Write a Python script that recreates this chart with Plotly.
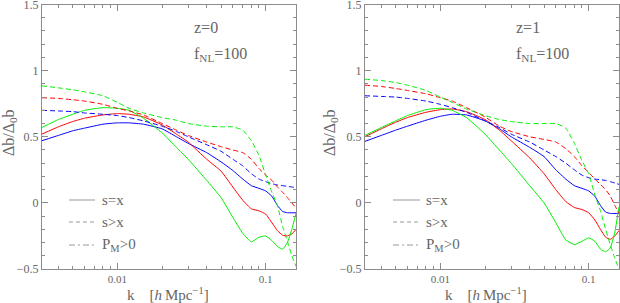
import plotly.graph_objects as go

k = [0.0031, 0.004, 0.005, 0.006, 0.008, 0.01, 0.012, 0.015, 0.02, 0.025, 0.03,
     0.04, 0.05, 0.06, 0.07, 0.08, 0.09, 0.1, 0.11, 0.12, 0.13, 0.14, 0.15, 0.16]

# z = 0 panel
z0_blue_solid = [0.47, 0.51, 0.545, 0.565, 0.595, 0.605, 0.605, 0.595, 0.56, 0.50, 0.45,
                 0.38, 0.31, 0.245, 0.18, 0.13, 0.11, 0.09, 0.05, -0.02, -0.065, -0.075, -0.075, -0.075]
z0_red_solid = [0.52, 0.575, 0.615, 0.64, 0.665, 0.675, 0.67, 0.65, 0.59, 0.52, 0.46,
                0.33, 0.24, 0.12, 0.02, -0.045, -0.06, -0.085, -0.15, -0.21, -0.245, -0.25, -0.235, -0.2]
z0_green_solid = [0.57, 0.63, 0.67, 0.70, 0.72, 0.715, 0.70, 0.64, 0.53, 0.42, 0.33,
                  0.17, 0.04, -0.11, -0.23, -0.295, -0.26, -0.25, -0.285, -0.33, -0.35, -0.30, -0.2, -0.08]
z0_blue_dash = [0.70, 0.695, 0.69, 0.68, 0.67, 0.66, 0.645, 0.62, 0.58, 0.54, 0.50,
                0.44, 0.39, 0.33, 0.28, 0.22, 0.18, 0.16, 0.145, 0.135, 0.13, 0.125, 0.12, 0.115]
z0_red_dash = [0.795, 0.79, 0.78, 0.77, 0.745, 0.715, 0.695, 0.665, 0.60, 0.55, 0.51,
               0.46, 0.425, 0.40, 0.38, 0.33, 0.26, 0.21, 0.17, 0.12, 0.08, 0.04, 0.0, -0.04]
z0_green_dash = [0.885, 0.87, 0.855, 0.84, 0.81, 0.76, 0.715, 0.68, 0.645, 0.625, 0.60,
                 0.58, 0.575, 0.575, 0.55, 0.47, 0.36, 0.21, 0.08, -0.02, -0.18, -0.29, -0.40, -0.48]

# z = 1 panel
z1_blue_solid = [0.465, 0.51, 0.55, 0.58, 0.625, 0.655, 0.67, 0.665, 0.62, 0.56, 0.50,
                 0.42, 0.35, 0.25, 0.18, 0.13, 0.11, 0.09, 0.05, -0.02, -0.07, -0.08, -0.08, -0.08]
z1_red_solid = [0.50, 0.56, 0.61, 0.645, 0.685, 0.705, 0.71, 0.69, 0.63, 0.55, 0.47,
                0.34, 0.22, 0.10, 0.01, -0.035, -0.05, -0.075, -0.13, -0.2, -0.26, -0.275, -0.25, -0.21]
z1_green_solid = [0.51, 0.57, 0.62, 0.66, 0.705, 0.715, 0.70, 0.645, 0.52, 0.40, 0.30,
                  0.13, 0.0, -0.15, -0.28, -0.315, -0.29, -0.265, -0.29, -0.35, -0.37, -0.34, -0.22, -0.03]
z1_blue_dash = [0.81, 0.805, 0.80, 0.79, 0.77, 0.745, 0.72, 0.685, 0.62, 0.57, 0.52,
                0.46, 0.40, 0.35, 0.30, 0.25, 0.21, 0.19, 0.18, 0.175, 0.17, 0.16, 0.15, 0.14]
z1_red_dash = [0.89, 0.88, 0.865, 0.85, 0.825, 0.795, 0.77, 0.72, 0.65, 0.58, 0.54,
               0.50, 0.48, 0.46, 0.41, 0.35, 0.28, 0.23, 0.18, 0.14, 0.10, 0.05, -0.02, -0.08]
z1_green_dash = [0.935, 0.925, 0.91, 0.89, 0.85, 0.80, 0.76, 0.71, 0.66, 0.63, 0.615,
                 0.60, 0.60, 0.60, 0.565, 0.45, 0.32, 0.22, 0.06, -0.06, -0.2, -0.32, -0.42, -0.5]

panel_labels = ["z=0", "z=1"]
fnl_label = "f<sub>NL</sub>=100"
legend_labels = ["s=x", "s>x", "P<sub>M</sub>>0"]
x_title = "k\u2003[<i>h</i>\u2009Mpc<sup>\u22121</sup>]"
x_major = [0.01, 0.1]
x_minor = [0.004, 0.005, 0.006, 0.007, 0.008, 0.009, 0.02, 0.03, 0.04, 0.05, 0.06, 0.07, 0.08, 0.09]

BLUE, RED, GREEN = "#0000ff", "#ff0000", "#00ee00"
GRAY = "#666666"
AX = "#8c8c8c"
FONT = "Liberation Serif"
DASH = "5px,3px"

panels = [
    [(z0_blue_solid, BLUE, "solid"), (z0_red_solid, RED, "solid"), (z0_green_solid, GREEN, "solid"),
     (z0_blue_dash, BLUE, DASH), (z0_red_dash, RED, DASH), (z0_green_dash, GREEN, DASH)],
    [(z1_blue_solid, BLUE, "solid"), (z1_red_solid, RED, "solid"), (z1_green_solid, GREEN, "solid"),
     (z1_blue_dash, BLUE, DASH), (z1_red_dash, RED, DASH), (z1_green_dash, GREEN, DASH)],
]

fig = go.Figure()
for i, series in enumerate(panels):
    xa = "x" if i == 0 else "x2"
    ya = "y" if i == 0 else "y2"
    for ys, col, dash in series:
        fig.add_trace(go.Scatter(x=k, y=ys, mode="lines", xaxis=xa, yaxis=ya,
                                 line=dict(color=col, width=1, dash=dash, shape="spline", smoothing=0.4),
                                 showlegend=False, hoverinfo="skip"))

W, H = 620, 303
xdoms = [[42 / W, 296 / W], [365 / W, 619 / W]]
ydom = [1 - 269 / H, 1 - 4.5 / H]

def xaxis(dom, anchor):
    return dict(domain=dom, anchor=anchor, type="log", range=[-2.508, -0.796],
                automargin=False, ticklabeloverflow="allow",
                tickmode="array", tickvals=x_major, ticktext=["0.01", "0.1"],
                ticks="inside", ticklen=6, tickcolor=AX, tickwidth=1,
                minor=dict(tickmode="array", tickvals=x_minor, ticks="inside", ticklen=3,
                           tickcolor=AX, tickwidth=1, showgrid=False),
                showline=True, linecolor=AX, linewidth=1, mirror="ticks",
                showgrid=False, zeroline=False,
                tickfont=dict(family=FONT, size=11, color=GRAY))

def yaxis(anchor):
    return dict(domain=ydom, anchor=anchor, range=[-0.5, 1.5],
                automargin=False, ticklabeloverflow="allow",
                tickmode="array", tickvals=[-0.5, 0, 0.5, 1, 1.5],
                ticktext=["\u22120.5", "0", "0.5", "1", "1.5"],
                ticks="inside", ticklen=6, tickcolor=AX, tickwidth=1,
                minor=dict(dtick=0.1, ticks="inside", ticklen=3, tickcolor=AX, tickwidth=1,
                           showgrid=False),
                showline=True, linecolor=AX, linewidth=1, mirror="ticks",
                showgrid=False, zeroline=False,
                tickfont=dict(family=FONT, size=12, color=GRAY))

annotations = []
shapes = []
for i in range(2):
    xd = "x domain" if i == 0 else "x2 domain"
    yd = "y domain" if i == 0 else "y2 domain"
    # y title
    annotations.append(dict(text="\u0394b/\u0394<sub>0</sub>b", textangle=-90,
                            xref="paper", yref="paper",
                            x=(9 if i == 0 else 330) / W, y=1 - 133 / H,
                            showarrow=False, xanchor="center", yanchor="middle",
                            font=dict(family=FONT, size=16, color=GRAY)))
    # x title
    annotations.append(dict(text=x_title,
                            xref="paper", yref="paper",
                            x=(168 if i == 0 else 486) / W, y=-0.005,
                            showarrow=False, xanchor="center", yanchor="bottom",
                            font=dict(family=FONT, size=15, color=GRAY)))
    # z and fNL labels
    xl = (192 - 42) / 254 if i == 0 else (514 - 365) / 254
    annotations.append(dict(text=panel_labels[i], xref=xd, yref=yd,
                            x=xl, y=(269 - 27) / 264.5, showarrow=False,
                            xanchor="left", yanchor="middle",
                            font=dict(family=FONT, size=16, color=GRAY)))
    annotations.append(dict(text=fnl_label, xref=xd, yref=yd,
                            x=xl, y=(269 - 54) / 264.5, showarrow=False,
                            xanchor="left", yanchor="middle",
                            font=dict(family=FONT, size=16, color=GRAY)))
    # legend
    lx0 = (69 - 42) / 254 if i == 0 else (393 - 365) / 254
    lx1 = (95 - 42) / 254 if i == 0 else (420 - 365) / 254
    tx = (100 - 42) / 254 if i == 0 else (424 - 365) / 254
    for lab, dash, ypx in zip(legend_labels, ["solid", "4px,3px", "6px,3px,2px,3px"], [200, 222, 245]):
        yy = (269 - ypx) / 264.5
        shapes.append(dict(type="line", xref=xd, yref=yd, x0=lx0, x1=lx1, y0=yy, y1=yy,
                           line=dict(color="#999999", width=1, dash=dash)))
        annotations.append(dict(text=lab, xref=xd, yref=yd, x=tx, y=yy, showarrow=False,
                                xanchor="left", yanchor="middle",
                                font=dict(family=FONT, size=15, color=GRAY)))

fig.update_layout(
    template="none",
    width=W, height=H, autosize=False,
    margin=dict(l=0, r=0, t=0, b=0, pad=0, autoexpand=False),
    paper_bgcolor="white", plot_bgcolor="white",
    xaxis=xaxis(xdoms[0], "y"), xaxis2=xaxis(xdoms[1], "y2"),
    yaxis=yaxis("x"), yaxis2=yaxis("x2"),
    annotations=annotations, shapes=shapes,
    showlegend=False,
)

fig.write_html("out.html", config={"displayModeBar": False, "responsive": False},
               post_script="document.body.style.margin='0';document.body.style.padding='0';")
